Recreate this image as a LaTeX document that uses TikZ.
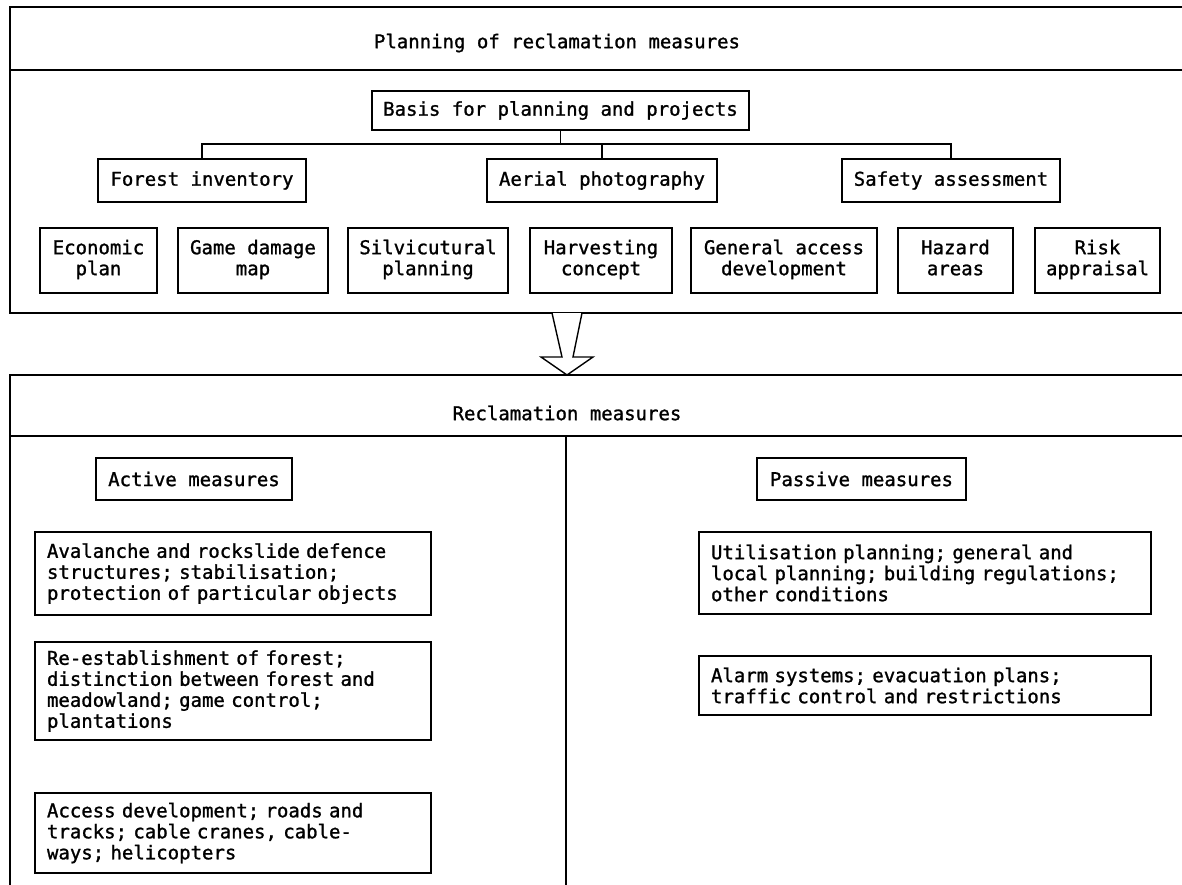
\documentclass[tikz,border=0pt]{standalone}
\usepackage{fontspec}
\newfontfamily\printfont[FakeBold=1.2]{DejaVu Sans Mono}
\usetikzlibrary{calc}
\begin{document}
\begin{tikzpicture}[x=1pt,y=-1pt,
  every node/.style={font=\printfont\fontsize{19}{21}\selectfont},
  rule/.style={line width=1.5pt},
  box/.style={draw, line width=1.4pt, inner sep=0pt, align=center},
  textbox/.style={box, align=left},
  bus/.style={line width=1.4pt}]
\useasboundingbox (0,0) rectangle (1182,885);
\fill[white] (0,0) rectangle (1182,885);

% upper frame: planning
\draw[rule] (1182,7) -- (10,7) -- (10,313) -- (1182,313);
\draw[rule] (10,70) -- (1182,70);
\node (ptitle) at (557,43) {Planning of reclamation measures};

\node[box, minimum width=377, minimum height=39] (basis) at (560.5,110.5) {Basis for planning and projects};

\node[box, minimum width=208, minimum height=43] (forest) at (202,180.5) {Forest inventory};
\node[box, minimum width=230, minimum height=43] (aerial) at (602,180.5) {Aerial photography};
\node[box, minimum width=218, minimum height=43] (safety) at (951,180.5) {Safety assessment};

\coordinate (busy) at (0,144);
\draw[bus] (basis.south) -- (basis.south |- busy);
\draw[bus] (forest.north) -- (forest.north |- busy) -- (safety.north |- busy) -- (safety.north);
\draw[bus] (aerial.north) -- (aerial.north |- busy);

\node[box, minimum width=117, minimum height=65] (econ) at (98.5,260.5) {Economic\strut\\plan\strut};
\node[box, minimum width=150, minimum height=65] (game) at (253,260.5) {Game damage\strut\\map\strut};
\node[box, minimum width=160, minimum height=65] (silv) at (428,260.5) {Silvicutural\strut\\planning\strut};
\node[box, minimum width=142, minimum height=65] (harv) at (601,260.5) {Harvesting\strut\\concept\strut};
\node[box, minimum width=186, minimum height=65] (gen) at (784,260.5) {General access\strut\\development\strut};
\node[box, minimum width=115, minimum height=65] (hazard) at (955.5,260.5) {Hazard\strut\\areas\strut};
\node[box, minimum width=125, minimum height=65] (risk) at (1097.5,260.5) {Risk\strut\\appraisal\strut};

% hollow arrow between the two frames
\coordinate (upper) at (567,313);
\coordinate (lower) at (567,375);
\draw[line width=1.4pt, line join=miter, fill=white]
  ($(upper)+(-15,0)$) -- ($(upper)+(-5,44)$) -- ($(upper)+(-26,44)$) -- (lower)
  -- ($(upper)+(26,44)$) -- ($(upper)+(6,44)$) -- ($(upper)+(15,0)$);

% lower frame: measures
\draw[rule] (1182,375) -- (10,375) -- (10,885);
\draw[rule] (10,436) -- (1182,436);
\draw[rule] (566,436) -- (566,885);
\node (rtitle) at (567,413) {Reclamation measures};

\node[box, minimum width=196, minimum height=42] (active) at (194,479) {Active measures};
\node[box, minimum width=209, minimum height=42] (passive) at (861.5,479) {Passive measures};

\node[textbox, minimum width=396, minimum height=83, text width=372] (aval) at (233,573.5)
  {Avalanche and rockslide defence\\structures; stabilisation;\\protection of particular objects};
\node[textbox, minimum width=396, minimum height=98, text width=372] (reest) at (233,691)
  {Re-establishment of forest;\\distinction between forest and\\meadowland; game control;\\plantations};
\node[textbox, minimum width=396, minimum height=80, text width=372] (access) at (233,833)
  {Access development; roads and\\tracks; cable cranes, cable-\\ways; helicopters};

\node[textbox, minimum width=452, minimum height=82, text width=428] (util) at (925,573)
  {Utilisation planning; general and\\local planning; building regulations;\\other conditions};
\node[textbox, minimum width=452, minimum height=59, text width=428] (alarm) at (925,685.5)
  {Alarm systems; evacuation plans;\\traffic control and restrictions};
\end{tikzpicture}
\end{document}
